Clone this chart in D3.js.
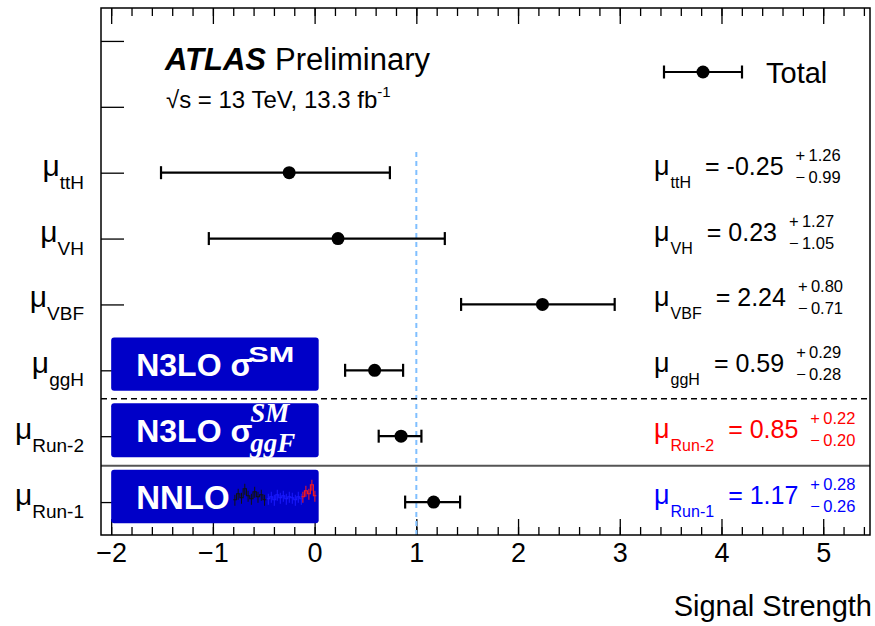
<!DOCTYPE html>
<html>
<head>
<meta charset="utf-8">
<script src="https://cdn.jsdelivr.net/npm/d3@7"></script>
<style>
body{margin:0;background:#fff;}
text{font-family:"Liberation Sans",Arial,Helvetica,sans-serif;}
</style>
</head>
<body>
<div id="chart"></div>
<script>
// measurements, bottom row first
var cats=["Run-1","Run-2","ggH","VBF","VH","ttH"];
var mu=[1.17,0.85,0.59,2.24,0.23,-0.25];
var errUp=[0.28,0.22,0.29,0.80,1.27,1.26];
var errDn=[0.26,0.20,0.28,0.71,1.05,0.99];
var txtColor=["#0000ff","#ff0000","#000","#000","#000","#000"];
var xTicks=[-2,-1,0,1,2,3,4,5];
// small thumbnail inside the NNLO box
var thumbBlack=[3,9,5,14,7,4,11,6,8,3];
var thumbBlue=[4,6,3,8,5,7,4,6,5,3,6,4];
var thumbRed=[6,12,9,18,7];

var W=875,H=626;
var margins={l:101,t:8,r:5,b:91};
var iw=W-margins.l-margins.r, ih=H-margins.t-margins.b;

var svg=d3.select("#chart").append("svg").attr("width",W).attr("height",H);
var g=svg.append("g").attr("transform","translate("+margins.l+","+margins.t+")");

var x=d3.scaleLinear().domain([-2.1,5.46]).range([0,iw]);
var y=d3.scaleLinear().domain([0,8]).range([ih,0]);

// axes
function axisStyle(sel){
    sel.select(".domain").remove();
    sel.selectAll("line").attr("stroke","#000").attr("stroke-width",1.3);
}
var minor=d3.range(-2.0,5.41,0.2);
g.append("g").attr("transform","translate(0,"+ih+")")
    .call(d3.axisBottom(x).tickValues(minor).tickSize(-8).tickFormat(""))
    .call(axisStyle);
g.append("g").attr("transform","translate(0,"+ih+")")
    .call(d3.axisBottom(x).tickValues(xTicks).tickSize(-16).tickPadding(8).tickFormat(d3.format("d")))
    .call(axisStyle)
    .selectAll("text").attr("font-size",27).attr("fill","#000")
    .style("font-family","'Liberation Sans',Arial,sans-serif");
g.append("g").call(d3.axisTop(x).tickValues(minor).tickSize(-8).tickFormat("")).call(axisStyle);
g.append("g").call(d3.axisTop(x).tickValues(xTicks).tickSize(-16).tickFormat("")).call(axisStyle);
g.append("g").call(d3.axisLeft(y).tickValues(d3.range(0.5,8,1)).tickSize(-23).tickFormat("")).call(axisStyle);

// SM line and separators
g.append("line").attr("x1",x(1)).attr("x2",x(1)).attr("y1",y(0)).attr("y2",y(5.87))
    .attr("stroke","#80bfff").attr("stroke-width",2).attr("stroke-dasharray","5,4");
g.append("line").attr("x1",0).attr("x2",iw).attr("y1",y(2.07)).attr("y2",y(2.07))
    .attr("stroke","#000").attr("stroke-width",1.5).attr("stroke-dasharray","6,4");
g.append("line").attr("x1",0).attr("x2",iw).attr("y1",y(1.05)).attr("y2",y(1.05))
    .attr("stroke","#555").attr("stroke-width",2);

// blue boxes
var boxes=[{y0:2.19,y1:3.0},{y0:1.18,y1:2.0},{y0:0.18,y1:0.99}];
g.selectAll("rect.box").data(boxes).enter().append("rect").attr("class","box")
    .attr("x",x(-2.0)).attr("width",x(0.04)-x(-2.0))
    .attr("y",function(d){return y(d.y1)}).attr("height",function(d){return y(d.y0)-y(d.y1)})
    .attr("rx",3).attr("fill","#0000c8");
var bx=x(-2.0)+25;
var t1=g.append("text").attr("x",bx).attr("y",y(2.59)+12).attr("fill","#fff")
    .attr("font-size",32).attr("font-weight","bold");
t1.append("tspan").text("N3LO \u03c3");
g.append("text").attr("x",bx+112).attr("y",y(2.59)-2).attr("fill","#fff")
    .attr("font-size",22).attr("font-weight","bold").attr("textLength",46).attr("lengthAdjust","spacingAndGlyphs")
    .text("SM");
var t2=g.append("text").attr("x",bx).attr("y",y(1.59)+12).attr("fill","#fff")
    .attr("font-size",32).attr("font-weight","bold");
t2.append("tspan").text("N3LO \u03c3");
var serif="'Liberation Serif','DejaVu Serif','Times New Roman',serif";
g.append("text").attr("x",bx+114).attr("y",y(1.59)-8).attr("fill","#fff")
    .attr("font-size",27).attr("font-style","italic").attr("font-weight","bold").style("font-family",serif)
    .text("SM");
g.append("text").attr("x",bx+114).attr("y",y(1.59)+22).attr("fill","#fff")
    .attr("font-size",27).attr("font-style","italic").attr("font-weight","bold").style("font-family",serif)
    .text("ggF");
g.append("text").attr("x",bx).attr("y",y(0.58)+12).attr("fill","#fff")
    .attr("font-size",33).attr("font-weight","bold").text("NNLO");

// thumbnail histograms
function thumb(vals,x0,step,color){
    var base=y(0.58)+6;
    var d="";
    vals.forEach(function(v,i){
        var xx=x0+i*step;
        d+=(i===0?"M":"L")+xx+","+(base-v)+"H"+(xx+step);
    });
    g.append("path").attr("d",d).attr("fill","none").attr("stroke",color).attr("stroke-width",1.1);
    g.selectAll(null).data(vals).enter().append("line")
        .attr("x1",function(v,i){return x0+i*step+step/2}).attr("x2",function(v,i){return x0+i*step+step/2})
        .attr("y1",function(v){return base-v-5}).attr("y2",function(v){return base-v+6})
        .attr("stroke",color).attr("stroke-width",1);
}
thumb(thumbBlack,x(-0.8),3.3,"#111");
thumb(thumbBlue,x(-0.47),3,"#1a1aff");
thumb(thumbRed,x(-0.13),3,"#ff1a1a");

// error bars (drawn as in the original figure: upper error to the left)
var idx=d3.range(cats.length);
var capH=6.5;
function lo(i){return x(mu[i]-errUp[i])}
function hi(i){return x(mu[i]+errDn[i])}
g.selectAll("line.err").data(idx).enter().append("line").attr("class","err")
    .attr("x1",lo).attr("x2",hi)
    .attr("y1",function(i){return y(i+0.5)}).attr("y2",function(i){return y(i+0.5)})
    .attr("stroke","#000").attr("stroke-width",2.2);
g.selectAll("line.capl").data(idx).enter().append("line")
    .attr("x1",lo).attr("x2",lo)
    .attr("y1",function(i){return y(i+0.5)-capH}).attr("y2",function(i){return y(i+0.5)+capH})
    .attr("stroke","#000").attr("stroke-width",2.2);
g.selectAll("line.capr").data(idx).enter().append("line")
    .attr("x1",hi).attr("x2",hi)
    .attr("y1",function(i){return y(i+0.5)-capH}).attr("y2",function(i){return y(i+0.5)+capH})
    .attr("stroke","#000").attr("stroke-width",2.2);
g.selectAll("circle.pt").data(idx).enter().append("circle")
    .attr("cx",function(i){return x(mu[i])}).attr("cy",function(i){return y(i+0.5)})
    .attr("r",6.5).attr("fill","#000");

// left labels
idx.forEach(function(i){
    var t=svg.append("text").attr("x",84).attr("y",margins.t+y(i+0.5)+3)
        .attr("text-anchor","end").attr("fill","#000");
    t.append("tspan").attr("font-size",30).text("\u03bc");
    t.append("tspan").attr("font-size",19).attr("dy",13).text(cats[i]);
});

// right annotations
idx.forEach(function(i){
    var cy=margins.t+y(i+0.5);
    var t=svg.append("text").attr("x",654).attr("y",cy+2).attr("fill",txtColor[i]).style("white-space","pre");
    t.append("tspan").attr("font-size",27).text("\u03bc");
    t.append("tspan").attr("font-size",16).attr("dy",13).attr("dx",1).text(cats[i]);
    t.append("tspan").attr("font-size",25).attr("dy",-13).attr("dx",14)
        .text("= "+d3.format(".2f")(mu[i]).replace("\u2212","-"));
    var bb=t.node().getBBox();
    var sx=bb.x+bb.width+12;
    svg.append("text").attr("x",sx).attr("y",cy-12).attr("font-size",16.5).attr("fill",txtColor[i])
        .text("+\u2009"+d3.format(".2f")(errUp[i]));
    svg.append("text").attr("x",sx).attr("y",cy+10).attr("font-size",16.5).attr("fill",txtColor[i])
        .text("\u2212\u2009"+d3.format(".2f")(errDn[i]));
});

// legend
var lx0=664,lx1=742,ly=72;
svg.append("line").attr("x1",lx0).attr("x2",lx1).attr("y1",ly).attr("y2",ly).attr("stroke","#000").attr("stroke-width",2.2);
[lx0,lx1].forEach(function(v){
    svg.append("line").attr("x1",v).attr("x2",v).attr("y1",ly-capH).attr("y2",ly+capH).attr("stroke","#000").attr("stroke-width",2.2);
});
svg.append("circle").attr("cx",(lx0+lx1)/2).attr("cy",ly).attr("r",6.5).attr("fill","#000");
svg.append("text").attr("x",766).attr("y",83).attr("font-size",29).text("Total");

// ATLAS label
var at=svg.append("text").attr("x",165).attr("y",70).attr("font-size",31);
at.append("tspan").attr("font-weight","bold").attr("font-style","italic").text("ATLAS");
at.append("tspan").attr("dx",9).text("Preliminary");
var en=svg.append("text").attr("x",166).attr("y",108).attr("font-size",24).style("white-space","pre");
en.append("tspan").text("\u221as = 13 TeV, 13.3 fb");
en.append("tspan").attr("font-size",15).attr("dy",-11).text("-1");

// axis title
svg.append("text").attr("x",872).attr("y",616).attr("text-anchor","end").attr("font-size",29).text("Signal Strength");

// frame
g.append("rect").attr("width",iw).attr("height",ih).attr("fill","none").attr("stroke","#000").attr("stroke-width",1.5);
</script>
</body>
</html>
